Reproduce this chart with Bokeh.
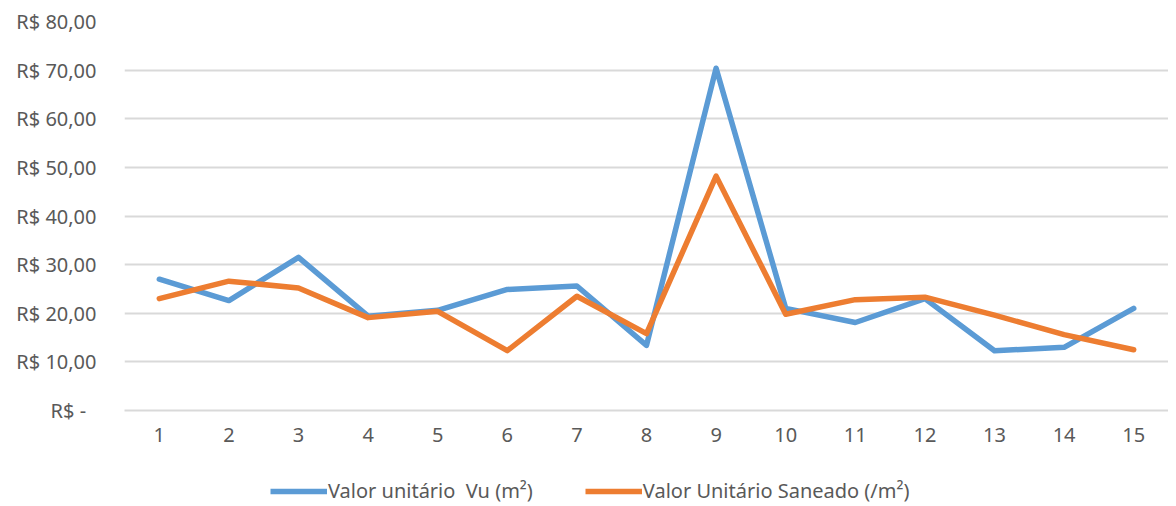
from bokeh.plotting import figure
from bokeh.models import Legend, LegendItem, FixedTicker
from bokeh.layouts import column
from bokeh.embed import file_html
from bokeh.resources import INLINE

x_cats = list(range(1, 16))
valor_vu = [27.0, 22.6, 31.5, 19.4, 20.6, 24.9, 25.6, 13.4, 70.4, 21.0, 18.1, 23.0, 12.3, 13.0, 21.0]
valor_saneado = [23.0, 26.6, 25.2, 19.1, 20.4, 12.3, 23.5, 15.8, 48.2, 19.8, 22.8, 23.3, 19.6, 15.6, 12.5]
y_ticks = [0, 10, 20, 30, 40, 50, 60, 70, 80]
y_tick_labels = ["R$ -\u00a0\u00a0", "R$ 10,00", "R$ 20,00", "R$ 30,00", "R$ 40,00",
                 "R$ 50,00", "R$ 60,00", "R$ 70,00", "R$ 80,00"]
series_names = ["Valor unitário  Vu (m²)", "Valor Unitário Saneado (/m²)"]
colors = ["#5b9bd5", "#ed7d31"]

FONT = "Noto Sans"
TXT = "#595959"

p = figure(width=1168, height=458, output_backend="svg", toolbar_location=None,
           x_range=(0.5, 15.5), y_range=(0, 80))
p.min_border_left = 124
p.min_border_right = 0
p.min_border_top = 21
p.min_border_bottom = 48
p.outline_line_color = None
p.background_fill_color = "white"
p.border_fill_color = "white"

p.line(x_cats, valor_vu, line_color=colors[0], line_width=5.5, line_join="round", line_cap="round")
p.line(x_cats, valor_saneado, line_color=colors[1], line_width=5.5, line_join="round", line_cap="round")

p.yaxis.ticker = FixedTicker(ticks=y_ticks)
p.yaxis.major_label_overrides = {t: l for t, l in zip(y_ticks, y_tick_labels)}
p.yaxis.axis_line_color = None
p.yaxis.major_tick_line_color = None
p.yaxis.minor_tick_line_color = None
p.yaxis.major_tick_out = 0
p.yaxis.major_label_standoff = 28
p.yaxis.major_label_text_font = FONT
p.yaxis.major_label_text_font_size = "20px"
p.yaxis.major_label_text_color = TXT

p.xaxis.ticker = FixedTicker(ticks=x_cats)
p.xaxis.axis_line_color = "#d9d9d9"
p.xaxis.axis_line_width = 2
p.xaxis.major_tick_line_color = None
p.xaxis.minor_tick_line_color = None
p.xaxis.major_tick_out = 0
p.xaxis.minor_tick_out = 0
p.xaxis.axis_label_standoff = 0
p.xaxis.major_label_standoff = 17
p.xaxis.major_label_text_font = FONT
p.xaxis.major_label_text_font_size = "20px"
p.xaxis.major_label_text_color = TXT

p.xgrid.grid_line_color = None
p.ygrid.grid_line_color = "#d9d9d9"
p.ygrid.grid_line_width = 2

# Legend strip (separate small figure, series drawn off-range so only the legend shows)
lg = figure(width=1168, height=48, output_backend="svg", toolbar_location=None,
            x_range=(100, 101), y_range=(0, 80), x_axis_location=None, y_axis_location=None)
lg.min_border_left = 0
lg.min_border_right = 0
lg.min_border_top = 0
lg.min_border_bottom = 0
lg.outline_line_color = None
lg.grid.grid_line_color = None
l1 = lg.line(x_cats, valor_vu, line_color=colors[0], line_width=5.5)
l2 = lg.line(x_cats, valor_saneado, line_color=colors[1], line_width=5.5)

legend = Legend(items=[LegendItem(label=series_names[0], renderers=[l1]),
                       LegendItem(label=series_names[1], renderers=[l2])],
                orientation="horizontal", location=(146, 2),
                label_text_font=FONT, label_text_font_size="20px", label_text_color=TXT,
                glyph_width=57, glyph_height=20, label_standoff=1, spacing=52,
                border_line_color=None, background_fill_alpha=0, padding=2, margin=0)
lg.add_layout(legend, "center")

open("out.html", "w").write(file_html(column(p, lg, spacing=0), INLINE))
